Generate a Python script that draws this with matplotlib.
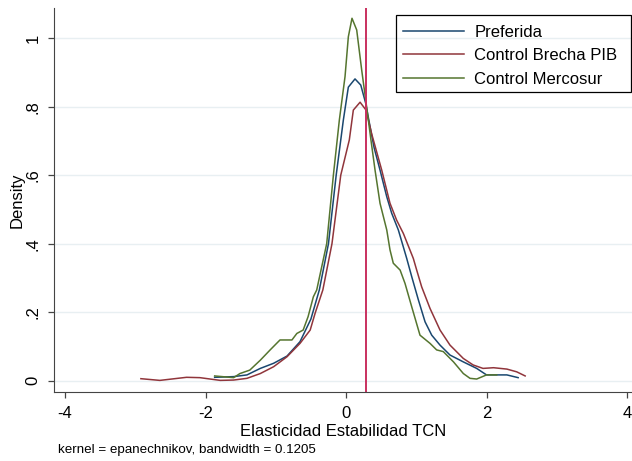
import matplotlib.pyplot as plt
from matplotlib.patches import Rectangle

# Kernel density estimates
pref_x = [-1.87, -1.60, -1.41, -1.22, -1.03, -0.84, -0.655, -0.50, -0.38, -0.25, -0.14, -0.038,
          0.033, 0.128, 0.21, 0.28, 0.342, 0.40, 0.484, 0.58, 0.65, 0.745, 0.864, 0.935, 1.03,
          1.125, 1.22, 1.338, 1.48, 1.67, 1.86, 2.0, 2.29, 2.45]
pref_y = [0.010, 0.012, 0.017, 0.036, 0.051, 0.072, 0.114, 0.18, 0.265, 0.40, 0.60, 0.761,
          0.857, 0.881, 0.863, 0.81, 0.742, 0.68, 0.615, 0.537, 0.489, 0.44, 0.357, 0.304, 0.236,
          0.172, 0.133, 0.104, 0.075, 0.055, 0.036, 0.017, 0.017, 0.009]

brecha_x = [-2.92, -2.65, -2.27, -2.08, -1.79, -1.60, -1.41, -1.22, -1.03, -0.84, -0.655, -0.51,
            -0.44, -0.33, -0.20, -0.075, 0.047, 0.104, 0.20, 0.285, 0.366, 0.508, 0.626, 0.72,
            0.816, 0.958, 1.006, 1.077, 1.196, 1.338, 1.48, 1.67, 1.81, 1.95, 2.10, 2.29, 2.43, 2.55]
brecha_y = [0.006, 0.001, 0.010, 0.009, 0.001, 0.002, 0.007, 0.021, 0.041, 0.070, 0.109, 0.148,
            0.197, 0.265, 0.40, 0.60, 0.703, 0.79, 0.813, 0.79, 0.72, 0.615, 0.518, 0.469,
            0.43, 0.357, 0.323, 0.274, 0.211, 0.148, 0.104, 0.065, 0.046, 0.036, 0.038, 0.034, 0.026, 0.014]

merco_x = [-1.87, -1.60, -1.51, -1.37, -1.22, -1.08, -0.94, -0.77, -0.70, -0.61, -0.54, -0.465,
           -0.417, -0.275, -0.18, -0.095, -0.014, 0.033, 0.085, 0.152, 0.223, 0.28, 0.318, 0.35,
           0.413, 0.484, 0.58, 0.626, 0.673, 0.77, 0.84, 0.935, 1.053, 1.196, 1.29, 1.385, 1.53,
           1.67, 1.765, 1.86, 2.0, 2.145]
merco_y = [0.014, 0.009, 0.021, 0.031, 0.06, 0.09, 0.119, 0.119, 0.138, 0.148, 0.187, 0.245,
           0.265, 0.40, 0.60, 0.761, 0.888, 1.004, 1.058, 1.024, 0.907, 0.82, 0.761, 0.71,
           0.615, 0.518, 0.44, 0.382, 0.343, 0.323, 0.284, 0.216, 0.133, 0.109, 0.09, 0.085, 0.055,
           0.021, 0.007, 0.005, 0.017, 0.017]

vline_x = 0.285
xticks = [-4, -2, 0, 2, 4]
yticks = [0, 0.2, 0.4, 0.6, 0.8, 1.0]
ytick_labels = ['0', '.2', '.4', '.6', '.8', '1']

plt.rcParams['font.family'] = ['Liberation Sans', 'DejaVu Sans']

W, H = 632, 461
fig = plt.figure(figsize=(W / 100, H / 100), dpi=100)
ax = fig.add_axes([54 / W, 1 - 391.7 / H, (W - 54) / W, (391.7 - 8) / H])

ax.plot(pref_x, pref_y, color='#1a476f', lw=1.1, label='Preferida')
ax.plot(brecha_x, brecha_y, color='#90353b', lw=1.1, label='Control Brecha PIB')
ax.plot(merco_x, merco_y, color='#55752f', lw=1.1, label='Control Mercosur')
ax.axvline(vline_x, color='#c9305f', lw=1.4)

ax.set_xlim(-4.157, 4.071)
ax.set_ylim(-0.032, 1.088)
ax.set_xticks(xticks)
ax.set_xticklabels([str(t) for t in xticks])
ax.set_yticks(yticks)
ax.set_yticklabels(ytick_labels, rotation=90, va='center')
ax.grid(axis='y', color='#e8eff2', lw=1)
ax.set_axisbelow(True)

for side in ['top', 'right']:
    ax.spines[side].set_visible(False)
for side in ['left', 'bottom']:
    ax.spines[side].set_color('#444444')
ax.tick_params(direction='out', length=4.5, width=0.9, color='#444444',
               labelsize=12, pad=5)
ax.tick_params(axis='x', pad=6)

ax.set_xlabel('Elasticidad Estabilidad TCN', fontsize=12, labelpad=2)
ax.set_ylabel('Density', fontsize=12, labelpad=1)

# legend box drawn separately so its edges sit where the reference has them
fig.patches.append(Rectangle((395.7 / W, 1 - 92.3 / H), (631 - 395.7) / W, (92.3 - 14.7) / H,
                             transform=fig.transFigure, fill=False, edgecolor='black',
                             lw=0.9))
leg = ax.legend(loc='upper left', bbox_to_anchor=(402.7 / W, 1 - 25 / H),
                bbox_transform=fig.transFigure, fontsize=12, frameon=False,
                handlelength=3.7, handletextpad=0.6,
                labelspacing=0.5, borderpad=0, borderaxespad=0)

fig.text(58 / W, 1 - 450 / H, 'kernel = epanechnikov, bandwidth = 0.1205',
         fontsize=9.6, va='center', ha='left')

fig.savefig('out.png', dpi=100)
